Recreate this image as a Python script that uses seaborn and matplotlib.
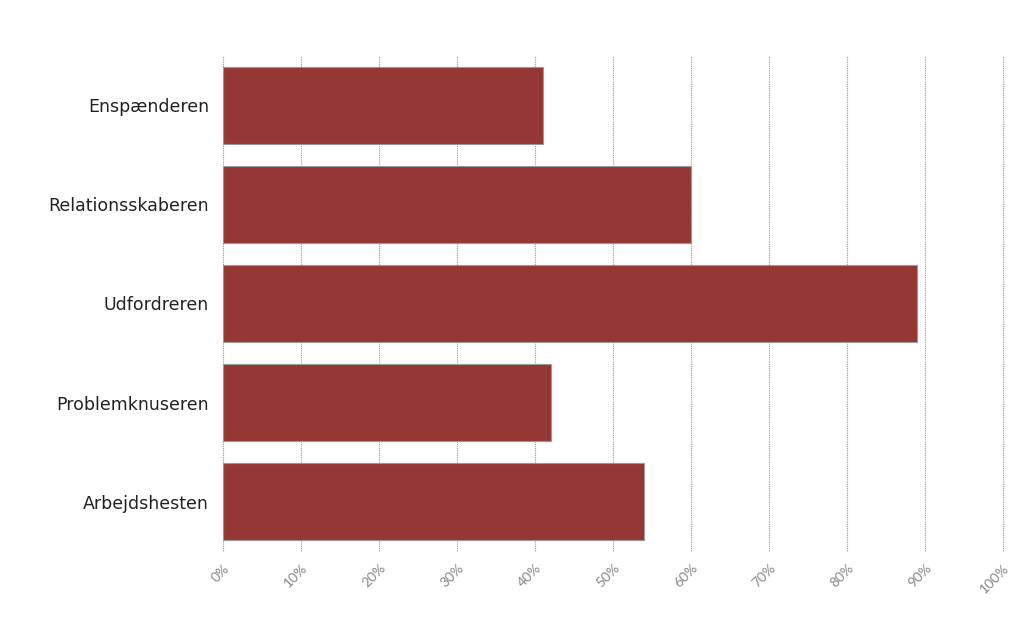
import matplotlib
matplotlib.use('Agg')
import matplotlib.pyplot as plt
import seaborn as sns
import pandas as pd
from matplotlib.ticker import PercentFormatter

categories = ['Enspænderen', 'Relationsskaberen', 'Udfordreren', 'Problemknuseren', 'Arbejdshesten']
values = [41, 60, 89, 42, 54]
x_ticks = list(range(0, 101, 10))

sns.set_theme(style='white')
plt.rcParams['font.family'] = ['DejaVu Sans']

df = pd.DataFrame({'category': categories, 'value': values})

fig = plt.figure(figsize=(10.24, 6.18), dpi=100)
ax = fig.add_axes([0.2178, 0.1084, 0.7617, 0.801])

sns.barplot(data=df, y='category', x='value', orient='h', color='#943735',
            saturation=1, width=0.77, edgecolor='#999999', linewidth=0.8, ax=ax)

ax.set_xlim(0, 100)
ax.set_ylim(4.5, -0.5)
ax.set_xticks(x_ticks)
ax.xaxis.set_major_formatter(PercentFormatter(decimals=0))
ax.grid(axis='x', color='#999999', linestyle=(0, (1, 1)), linewidth=0.8)
ax.set_axisbelow(True)
# keep the 100% gridline visible at the axes edge
for gl in ax.get_xgridlines():
    gl.set_clip_on(False)
for s in ax.spines.values():
    s.set_visible(False)
ax.set_xlabel('')
ax.set_ylabel('')
ax.tick_params(axis='y', labelsize=12.5, colors='#222222', length=0, pad=10)
ax.tick_params(axis='x', labelsize=10, colors='#888888', length=0, pad=8)
for lbl in ax.get_xticklabels():
    lbl.set_rotation(45)
    lbl.set_ha('right')
    lbl.set_rotation_mode('anchor')
    lbl.set_family(['Lato', 'DejaVu Sans'])

fig.savefig('out.png', dpi=100)
